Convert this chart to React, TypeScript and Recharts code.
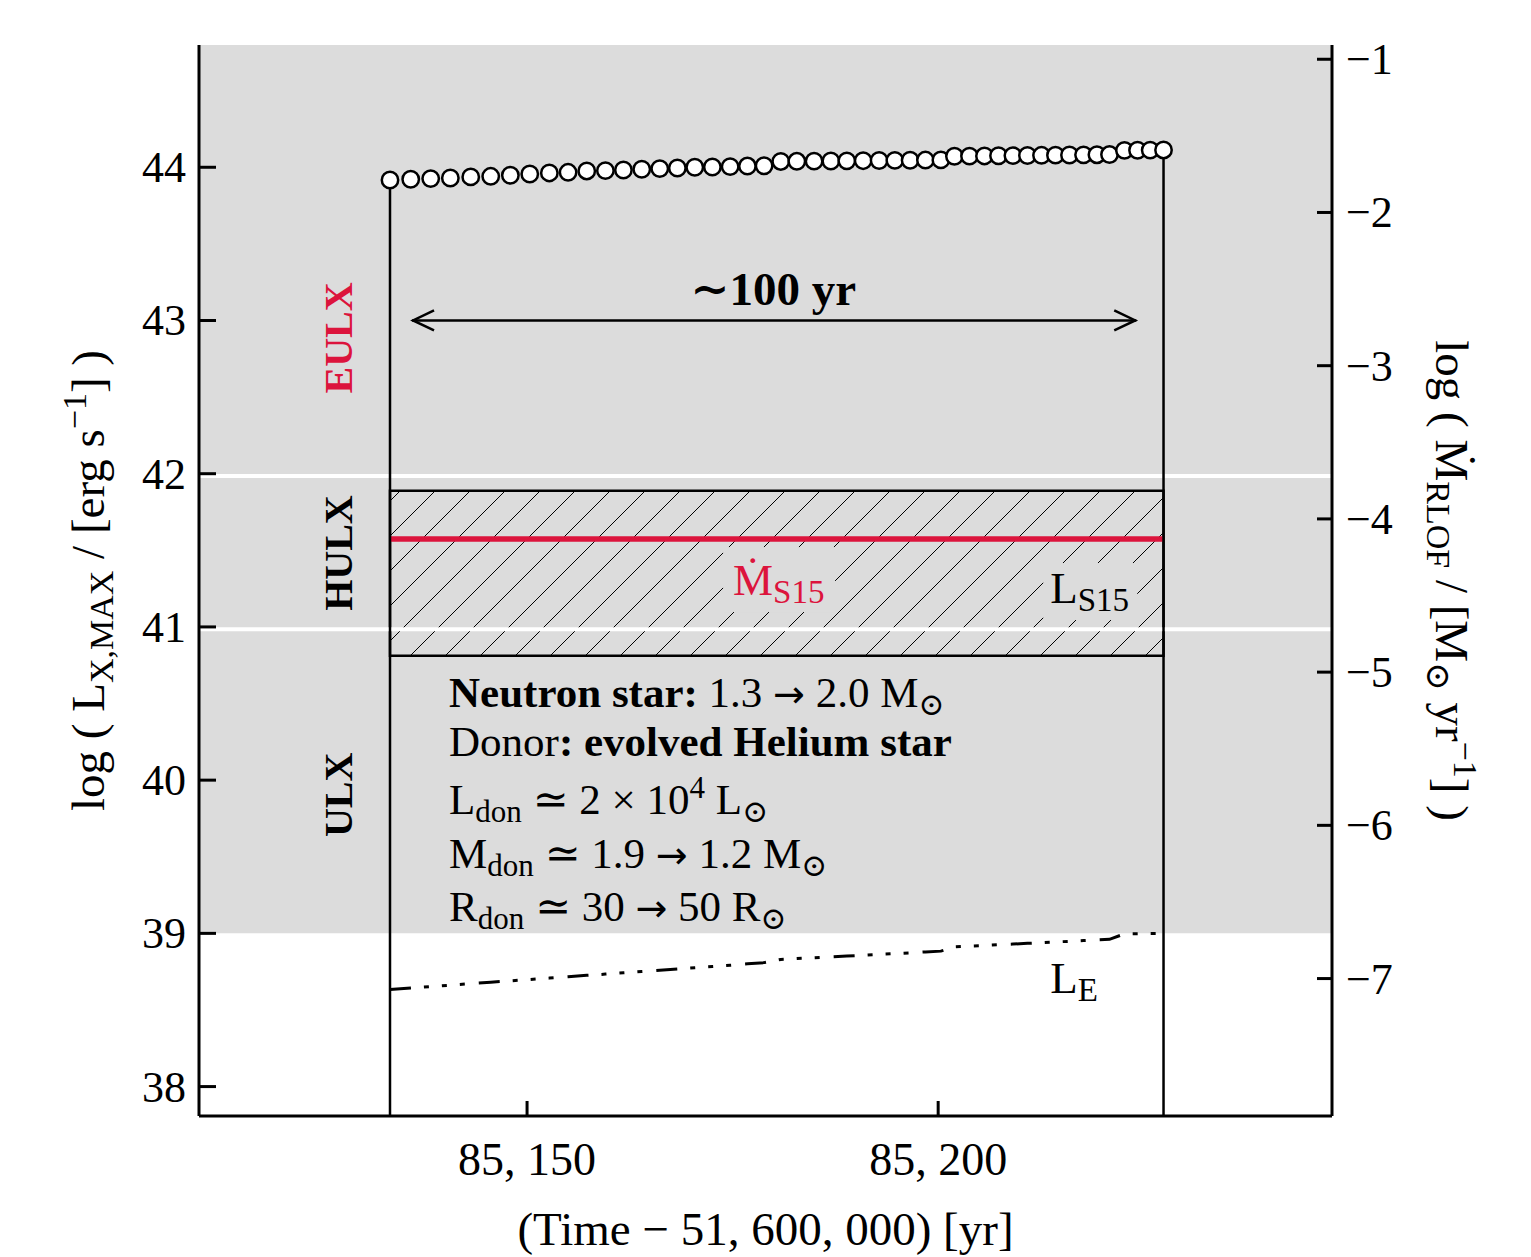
import React from 'react';
import {
  ComposedChart,
  XAxis,
  YAxis,
  Line,
  ReferenceArea,
  ReferenceLine,
  ReferenceDot,
} from 'recharts';

// ---------------- data ----------------
const times = [
  85133.33, 85135.85, 85138.28, 85140.67, 85143.15, 85145.58, 85147.97, 85150.33, 85152.71, 85154.99,
  85157.26, 85159.53, 85161.72, 85163.95, 85166.14, 85168.28, 85170.4, 85172.54, 85174.7, 85176.8,
  85178.83, 85180.86, 85182.81, 85184.91, 85186.95, 85188.89, 85190.88, 85192.82, 85194.73, 85196.59,
  85198.45, 85200.33, 85201.98, 85203.81, 85205.63, 85207.34, 85209.09, 85210.86, 85212.57, 85214.27,
  85215.97, 85217.68, 85219.31, 85220.84, 85222.66, 85224.25, 85225.79, 85227.41,
];
const lxMax = [
  43.917, 43.922, 43.926, 43.93, 43.937, 43.941, 43.948, 43.956, 43.963, 43.967,
  43.976, 43.978, 43.982, 43.987, 43.991, 43.995, 44.0, 44.002, 44.004, 44.008,
  44.01, 44.038, 44.039, 44.04, 44.041, 44.042, 44.043, 44.044, 44.045, 44.046,
  44.047, 44.048, 44.072, 44.073, 44.074, 44.075, 44.076, 44.077, 44.078, 44.079,
  44.08, 44.081, 44.082, 44.083, 44.11, 44.111, 44.112, 44.113,
];
const lEdd = [
  38.634, 38.644, 38.653, 38.662, 38.672, 38.681, 38.69, 38.699, 38.708, 38.717,
  38.726, 38.734, 38.743, 38.751, 38.76, 38.768, 38.776, 38.784, 38.792, 38.801,
  38.809, 38.83, 38.836, 38.841, 38.847, 38.852, 38.857, 38.863, 38.868, 38.873,
  38.879, 38.884, 38.912, 38.917, 38.921, 38.926, 38.93, 38.935, 38.939, 38.944,
  38.948, 38.953, 38.957, 38.961, 38.997, 38.998, 38.999, 39.0,
];
const xTicks = [85150, 85200];
const xTickLabels = ['85, 150', '85, 200'];
const yLeftTicks = [38, 39, 40, 41, 42, 43, 44];
const yRightTicks = [-1, -2, -3, -4, -5, -6, -7];
const mdotS15 = 41.574;
const ls15Band = [40.812, 41.889];
const ulxFloor = 39;
const bandEdges = [40.985, 41.985];

const data = times.map((t, i) => ({ t, lx: lxMax[i], le: lEdd[i] }));

const X_DOMAIN: [number, number] = [85110.1, 85247.9];
const YL_DOMAIN: [number, number] = [37.808, 44.798];
const YR_DOMAIN: [number, number] = [-7.897, -0.907];

const FONT = "'Liberation Serif', 'DejaVu Serif', serif";
const ARROW_FONT = "'DejaVu Sans', sans-serif";
const CRIMSON = '#DC143C';
const GRAY = '#DCDCDC';
const TICK_FS = 44;
const LABEL_FS = 47;

// ---------------- ticks ----------------
const LeftTick = (p: any) => (
  <g>
    <line x1={p.x} x2={p.x + 17} y1={p.y} y2={p.y} stroke="#000" strokeWidth={3} />
    <text x={p.x - 13} y={p.y} dy="0.34em" textAnchor="end" fontSize={TICK_FS} fontFamily={FONT} fill="#000">
      {p.payload.value}
    </text>
  </g>
);
const RightTick = (p: any) => (
  <g>
    <line x1={p.x - 15} x2={p.x} y1={p.y} y2={p.y} stroke="#000" strokeWidth={3} />
    <text x={p.x + 14} y={p.y} dy="0.34em" textAnchor="start" fontSize={TICK_FS} fontFamily={FONT} fill="#000">
      {'\u2212' + Math.abs(p.payload.value)}
    </text>
  </g>
);
const BottomTick = (p: any) => {
  const i = xTicks.indexOf(p.payload.value);
  return (
    <g>
      <line x1={p.x} x2={p.x} y1={p.y - 15} y2={p.y} stroke="#000" strokeWidth={3} />
      <text x={p.x} y={p.y + 59} textAnchor="middle" fontSize={TICK_FS + 2} fontFamily={FONT} fill="#000">
        {i >= 0 ? xTickLabels[i] : p.payload.value}
      </text>
    </g>
  );
};
const TopTick = (p: any) => (
  <g>
    <line x1={p.x} x2={p.x} y1={p.y} y2={p.y + 15} stroke="#000" strokeWidth={3} />
  </g>
);

// ---------------- axis labels ----------------
const LeftLabel = (p: any) => {
  const vb = p.viewBox;
  const cx = vb.x + 80;
  const cy = vb.y + vb.height / 2;
  return (
    <text transform={`rotate(-90 ${cx} ${cy})`} x={cx} y={cy} dy="0.35em" textAnchor="middle" fontSize={LABEL_FS} fontFamily={FONT} fill="#000">
      log ( L
      <tspan fontSize={34} dy={9}>X,MAX</tspan>
      <tspan dy={-9}> / [erg s</tspan>
      <tspan fontSize={34} dy={-18}>{'\u22121'}</tspan>
      <tspan dy={18}>] )</tspan>
    </text>
  );
};
const RightLabel = (p: any) => {
  const vb = p.viewBox;
  const cx = vb.x + 120;
  const cy = vb.y + vb.height / 2;
  return (
    <text transform={`rotate(90 ${cx} ${cy})`} x={cx} y={cy} dy="0.35em" textAnchor="middle" fontSize={LABEL_FS} fontFamily={FONT} fill="#000">
      log ( {'\u1E40'}
      <tspan fontSize={34} dy={9}>RLOF</tspan>
      <tspan dy={-9}> / [M</tspan>
      <tspan fontSize={34} dy={9}>{'\u2299'}</tspan>
      <tspan dy={-9}> yr</tspan>
      <tspan fontSize={34} dy={-18}>{'\u22121'}</tspan>
      <tspan dy={18}>] )</tspan>
    </text>
  );
};
const BottomLabel = (p: any) => {
  const vb = p.viewBox;
  return (
    <text x={vb.x + vb.width / 2} y={vb.y + 129} textAnchor="middle" fontSize={LABEL_FS} fontFamily={FONT} fill="#000">
      (Time {'\u2212'} 51, 600, 000) [yr]
    </text>
  );
};

// ---------------- annotation shapes ----------------
const rotatedLabel = (txt: string, color: string) => (p: any) => (
  <text transform={`rotate(-90 ${p.cx} ${p.cy})`} x={p.cx} y={p.cy} dy="0.35em" textAnchor="middle" fontSize={40} fontWeight="bold" fontFamily={FONT} fill={color}>
    {txt}
  </text>
);

const Arrow = (p: any) => {
  const { x1, y1, x2, y2 } = p;
  return (
    <g>
      <line x1={x1} y1={y1} x2={x2} y2={y2} stroke="#000" strokeWidth={2.5} />
      <polyline points={`${x1 + 22},${y1 - 10} ${x1 + 1},${y1} ${x1 + 22},${y1 + 10}`} fill="none" stroke="#000" strokeWidth={2.5} />
      <polyline points={`${x2 - 22},${y2 - 10} ${x2 - 1},${y2} ${x2 - 22},${y2 + 10}`} fill="none" stroke="#000" strokeWidth={2.5} />
    </g>
  );
};

const textLine = (content: React.ReactNode, anchor = 'start', weight = 'normal', size = 43) => (p: any) => (
  <text x={p.cx} y={p.cy} textAnchor={anchor} fontSize={size} fontWeight={weight} fontFamily={FONT} fill="#000">
    {content}
  </text>
);

const MdotLabel = (p: any) => (
  <g>
    <rect x={p.cx - 10} y={p.cy - 48} width={112} height={65} fill={GRAY} />
    <text x={p.cx} y={p.cy} fontSize={45} fontFamily={FONT} fill={CRIMSON}>
      {'\u1E40'}
      <tspan fontSize={33} dy={8}>S15</tspan>
    </text>
  </g>
);
const LS15Label = (p: any) => (
  <g>
    <rect x={p.cx - 7} y={p.cy - 40} width={94} height={57} fill={GRAY} />
    <text x={p.cx} y={p.cy} fontSize={45} fontFamily={FONT} fill="#000">
      L<tspan fontSize={33} dy={8}>S15</tspan>
    </text>
  </g>
);
const LELabel = (p: any) => (
  <text x={p.cx} y={p.cy} fontSize={45} fontFamily={FONT} fill="#000">
    L<tspan fontSize={33} dy={8}>E</tspan>
  </text>
);

const SUB = 31;
const Arr = () => <tspan fontFamily={ARROW_FONT} fontSize={38}>{'\u2192'}</tspan>;
const line1 = (
  <>
    <tspan fontWeight="bold">Neutron star:</tspan> 1.3 <Arr /> 2.0 M<tspan fontSize={SUB} dy={8}>{'\u2299'}</tspan>
  </>
);
const line2 = (
  <>
    Donor<tspan fontWeight="bold">: evolved Helium star</tspan>
  </>
);
const line3 = (
  <>
    L<tspan fontSize={SUB} dy={8}>don</tspan>
    <tspan dy={-8}> {'\u2243'} 2 {'\u00D7'} 10</tspan>
    <tspan fontSize={SUB} dy={-16}>4</tspan>
    <tspan dy={16}> L</tspan>
    <tspan fontSize={SUB} dy={8}>{'\u2299'}</tspan>
  </>
);
const line4 = (
  <>
    M<tspan fontSize={SUB} dy={8}>don</tspan>
    <tspan dy={-8}> {'\u2243'} 1.9 </tspan>
    <Arr /> 1.2 M
    <tspan fontSize={SUB} dy={8}>{'\u2299'}</tspan>
  </>
);
const line5 = (
  <>
    R<tspan fontSize={SUB} dy={8}>don</tspan>
    <tspan dy={-8}> {'\u2243'} 30 </tspan>
    <Arr /> 50 R
    <tspan fontSize={SUB} dy={8}>{'\u2299'}</tspan>
  </>
);

const TEXT_X = 85140.51;

export default function App() {
  return (
    <ComposedChart
      width={1515}
      height={1249}
      data={data}
      margin={{ top: 37, right: 0, bottom: 0, left: 0 }}
      style={{ overflow: 'visible' }}
    >
      <defs>
        <pattern id="hatch" patternUnits="userSpaceOnUse" width={35} height={35}>
          <path d="M0,35 L35,0 M-5,5 L5,-5 M30,40 L40,30" stroke="#000" strokeWidth={1} />
        </pattern>
      </defs>
      <XAxis
        xAxisId={0}
        dataKey="t"
        type="number"
        domain={X_DOMAIN}
        allowDataOverflow
        ticks={xTicks}
        tickSize={0}
        tickMargin={0}
        tick={<BottomTick />}
        height={141}
        axisLine={{ stroke: '#000', strokeWidth: 3 }}
        tickLine={false}
        label={BottomLabel}
      />
      <XAxis
        xAxisId="top"
        orientation="top"
        type="number"
        domain={X_DOMAIN}
        allowDataOverflow
        ticks={xTicks}
        tickSize={0}
        tickMargin={0}
        tick={<TopTick />}
        height={0}
        axisLine={{ stroke: '#000', strokeWidth: 3 }}
        tickLine={false}
      />
      <YAxis
        yAxisId="left"
        orientation="left"
        type="number"
        domain={YL_DOMAIN}
        allowDataOverflow
        ticks={yLeftTicks}
        tickSize={0}
        tickMargin={0}
        tick={<LeftTick />}
        width={191}
        axisLine={{ stroke: '#000', strokeWidth: 3 }}
        tickLine={false}
        label={LeftLabel}
      />
      <YAxis
        yAxisId="right"
        orientation="right"
        type="number"
        domain={YR_DOMAIN}
        allowDataOverflow
        ticks={yRightTicks}
        tickSize={0}
        tickMargin={0}
        tick={<RightTick />}
        width={191}
        axisLine={{ stroke: '#000', strokeWidth: 3 }}
        tickLine={false}
        label={RightLabel}
      />

      <ReferenceArea yAxisId="left" y1={ulxFloor} y2={YL_DOMAIN[1]} fill={GRAY} fillOpacity={1} stroke="none" />
      <ReferenceLine yAxisId="left" y={bandEdges[0]} stroke="#fff" strokeWidth={4} />
      <ReferenceLine yAxisId="left" y={bandEdges[1]} stroke="#fff" strokeWidth={4} />
      <ReferenceArea
        yAxisId="left"
        x1={times[0]}
        x2={times[times.length - 1]}
        y1={ls15Band[0]}
        y2={ls15Band[1]}
        fill="url(#hatch)"
        fillOpacity={1}
        stroke="#000"
        strokeWidth={2.5}
      />
      <ReferenceLine
        yAxisId="left"
        segment={[{ x: times[0], y: mdotS15 }, { x: times[times.length - 1], y: mdotS15 }]}
        stroke={CRIMSON}
        strokeWidth={5.5}
      />
      <ReferenceLine
        yAxisId="left"
        segment={[{ x: times[0], y: YL_DOMAIN[0] }, { x: times[0], y: lxMax[0] }]}
        stroke="#000"
        strokeWidth={2.5}
      />
      <ReferenceLine
        yAxisId="left"
        segment={[{ x: times[times.length - 1], y: YL_DOMAIN[0] }, { x: times[times.length - 1], y: lxMax[lxMax.length - 1] }]}
        stroke="#000"
        strokeWidth={2.5}
      />
      <ReferenceLine
        yAxisId="left"
        segment={[{ x: 85136.01, y: 43.0 }, { x: 85224.09, y: 43.0 }]}
        shape={Arrow}
      />

      <Line
        yAxisId="left"
        dataKey="le"
        type="linear"
        stroke="#000"
        strokeWidth={3}
        strokeDasharray="21 13 5 13 5 13 5 14"
        dot={false}
        activeDot={false}
        isAnimationActive={false}
      />
      <Line
        yAxisId="left"
        dataKey="lx"
        type="linear"
        stroke="none"
        dot={{ r: 8.2, fill: '#fff', stroke: '#000', strokeWidth: 2.5 }}
        activeDot={false}
        isAnimationActive={false}
      />

      <ReferenceDot yAxisId="left" x={85127.0} y={42.886} r={1} shape={rotatedLabel('EULX', CRIMSON)} />
      <ReferenceDot yAxisId="left" x={85127.0} y={41.482} r={1} shape={rotatedLabel('HULX', '#000')} />
      <ReferenceDot yAxisId="left" x={85127.0} y={39.904} r={1} shape={rotatedLabel('ULX', '#000')} />
      <ReferenceDot yAxisId="left" x={85179.93} y={43.101} r={1} shape={textLine('\u223C100 yr', 'middle', 'bold', 47)} />
      <ReferenceDot yAxisId="left" x={85175.06} y={41.208} r={1} shape={MdotLabel} />
      <ReferenceDot yAxisId="left" x={85213.63} y={41.156} r={1} shape={LS15Label} />
      <ReferenceDot yAxisId="left" x={85213.63} y={38.61} r={1} shape={LELabel} />
      <ReferenceDot yAxisId="left" x={TEXT_X} y={40.477} r={1} shape={textLine(line1)} />
      <ReferenceDot yAxisId="left" x={TEXT_X} y={40.157} r={1} shape={textLine(line2)} />
      <ReferenceDot yAxisId="left" x={TEXT_X} y={39.779} r={1} shape={textLine(line3)} />
      <ReferenceDot yAxisId="left" x={TEXT_X} y={39.426} r={1} shape={textLine(line4)} />
      <ReferenceDot yAxisId="left" x={TEXT_X} y={39.08} r={1} shape={textLine(line5)} />
    </ComposedChart>
  );
}
